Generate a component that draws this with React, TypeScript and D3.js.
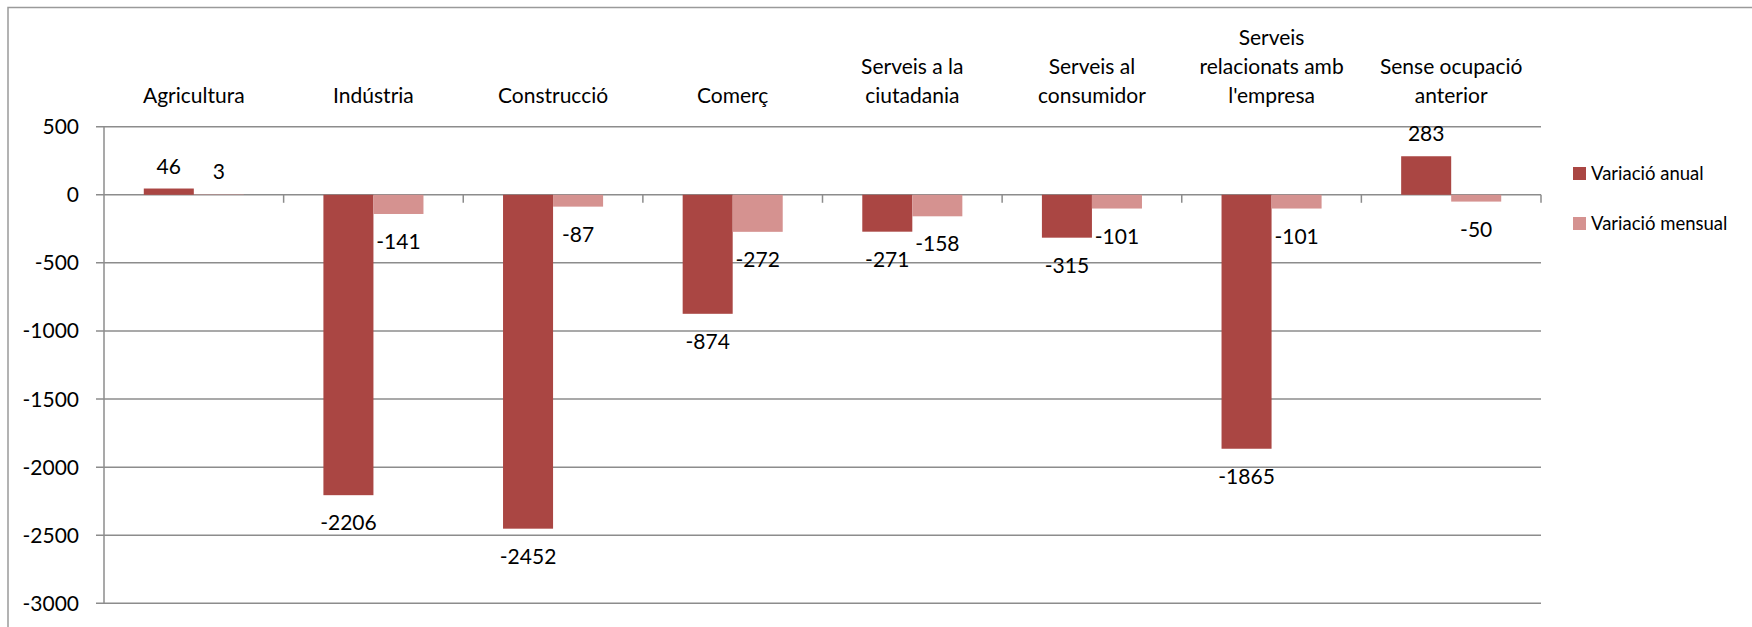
import React, { useRef, useEffect } from 'react';
import * as d3 from 'd3';

// Sector labels (split into lines like the original axis labels)
const categories: string[][] = [
  ['Agricultura'],
  ['Indústria'],
  ['Construcció'],
  ['Comerç'],
  ['Serveis a la', 'ciutadania'],
  ['Serveis al', 'consumidor'],
  ['Serveis', 'relacionats amb', "l'empresa"],
  ['Sense ocupació', 'anterior'],
];

const annual = [46, -2206, -2452, -874, -271, -315, -1865, 283];
const monthly = [3, -141, -87, -272, -158, -101, -101, -50];

const yTicks = [500, 0, -500, -1000, -1500, -2000, -2500, -3000];

const seriesNames = ['Variació anual', 'Variació mensual'];
const seriesColors = ['#AA4643', '#D59290'];

const FONT = 'Lato, "Open Sans", sans-serif';

export default function App() {
  const chartRef = useRef<SVGSVGElement>(null);

  useEffect(() => {
    if (!chartRef.current) return;

    const svg = d3.select(chartRef.current);
    svg.selectAll('*').remove();

    const width = 1752;
    const height = 627;
    svg.attr('width', width).attr('height', height);

    const left = 104;
    const right = 1541;
    const top = 126.7;
    const bottom = 603.3;

    // Outer chart frame (runs off the right and bottom of the picture)
    svg.append('rect')
      .attr('x', 8).attr('y', 7.5)
      .attr('width', width + 20).attr('height', height + 20)
      .attr('fill', 'none')
      .attr('stroke', '#9a9a9a')
      .attr('stroke-width', 1.5);

    const idx = categories.map((_, i) => String(i));
    const x0 = d3.scaleBand<string>().domain(idx).range([left, right])
      .paddingInner(0.443).paddingOuter(0.2215);
    const x1 = d3.scaleBand<string>().domain(['0', '1']).range([0, x0.bandwidth()]);
    const y = d3.scaleLinear().domain([-3000, 500]).range([bottom, top]);

    const g = svg.append('g');

    // Gridlines
    g.selectAll('.grid')
      .data(yTicks)
      .enter()
      .append('line')
      .attr('x1', left - 8).attr('x2', right)
      .attr('y1', (d) => y(d)).attr('y2', (d) => y(d))
      .attr('stroke', '#8c8c8c')
      .attr('stroke-width', 1.5);

    // Y axis line
    g.append('line')
      .attr('x1', left).attr('x2', left)
      .attr('y1', top).attr('y2', bottom)
      .attr('stroke', '#8c8c8c')
      .attr('stroke-width', 1.5);

    // Category tick marks on the zero line
    const step = x0.step();
    g.selectAll('.ctick')
      .data(d3.range(1, categories.length + 1))
      .enter()
      .append('line')
      .attr('x1', (d) => left + d * step).attr('x2', (d) => left + d * step)
      .attr('y1', y(0)).attr('y2', y(0) + 8)
      .attr('stroke', '#8c8c8c')
      .attr('stroke-width', 1.5);

    // Y labels
    g.selectAll('.ylabel')
      .data(yTicks)
      .enter()
      .append('text')
      .attr('x', 79)
      .attr('y', (d) => y(d) + 7.5)
      .attr('text-anchor', 'end')
      .attr('font-family', FONT)
      .attr('font-size', '21px')
      .attr('fill', '#000')
      .text((d) => String(d));

    // Category labels (bottom-aligned above the plot)
    categories.forEach((lines, i) => {
      const cx = x0(String(i))! + x0.bandwidth() / 2;
      lines.forEach((line, j) => {
        g.append('text')
          .attr('x', cx)
          .attr('y', 103 - (lines.length - 1 - j) * 29)
          .attr('text-anchor', 'middle')
          .attr('font-family', FONT)
          .attr('font-size', '21px')
          .attr('fill', '#000')
          .text(line);
      });
    });

    const rows = categories.map((_, i) => ({ i: String(i), vals: [annual[i], monthly[i]] }));

    const groups = g.selectAll('.cat')
      .data(rows)
      .enter()
      .append('g')
      .attr('transform', (d) => `translate(${x0(d.i)},0)`);

    // Bars
    groups.selectAll('rect')
      .data((d) => d.vals.map((v, k) => ({ v, k })))
      .enter()
      .append('rect')
      .attr('x', (d) => x1(String(d.k))!)
      .attr('y', (d) => y(Math.max(0, d.v)))
      .attr('width', x1.bandwidth())
      .attr('height', (d) => Math.abs(y(d.v) - y(0)))
      .attr('fill', (d) => seriesColors[d.k]);

    // Value labels
    groups.selectAll('.value')
      .data((d) => d.vals.map((v, k) => ({ v, k })))
      .enter()
      .append('text')
      .attr('x', (d) => x1(String(d.k))! + x1.bandwidth() / 2)
      .attr('y', (d) => (d.v >= 0 ? y(d.v) - 15 : y(d.v) + 35))
      .attr('text-anchor', 'middle')
      .attr('font-family', FONT)
      .attr('font-size', '21px')
      .attr('fill', '#000')
      .text((d) => String(d.v));

    // Legend
    const legend = svg.append('g');
    seriesNames.forEach((name, k) => {
      legend.append('rect')
        .attr('x', 1573).attr('y', 167 + k * 50)
        .attr('width', 13).attr('height', 13)
        .attr('fill', seriesColors[k]);
      legend.append('text')
        .attr('x', 1591).attr('y', 179.5 + k * 50)
        .attr('font-family', FONT)
        .attr('font-size', '18.5px')
        .attr('fill', '#000')
        .text(name);
    });
  }, []);

  return (
    <svg
      ref={chartRef}
      style={{ position: 'absolute', left: 0, top: 0, display: 'block', background: '#fff' }}
    />
  );
}
